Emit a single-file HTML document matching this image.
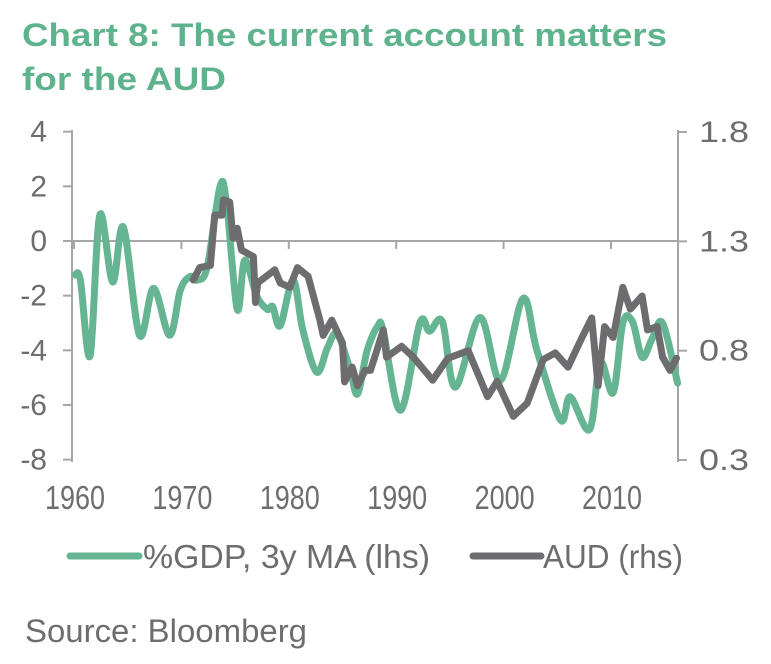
<!DOCTYPE html>
<html><head><meta charset="utf-8"><style>
body{margin:0;background:#fff;}
svg{display:block;font-family:"Liberation Sans",sans-serif;}
</style></head><body>
<svg id="chart" width="771" height="664" viewBox="0 0 771 664">
<text x="22" y="46" font-size="32" font-weight="bold" fill="#5fb38c" textLength="645" lengthAdjust="spacingAndGlyphs">Chart 8: The current account matters</text>
<text x="22" y="90" font-size="32" font-weight="bold" fill="#5fb38c" textLength="204" lengthAdjust="spacingAndGlyphs">for the AUD</text>
<g id="axes"></g>
<g id="series"></g>
<g>
<line x1="70" y1="556" x2="139" y2="556" stroke="#66b592" stroke-width="7" stroke-linecap="round"/>
<text x="143" y="568" font-size="33" fill="#6d6d6f" textLength="287" lengthAdjust="spacingAndGlyphs">%GDP, 3y MA (lhs)</text>
<line x1="473" y1="556" x2="541" y2="556" stroke="#6d6d6f" stroke-width="7" stroke-linecap="round"/>
<text x="543" y="568" font-size="33" fill="#6d6d6f" textLength="140" lengthAdjust="spacingAndGlyphs">AUD (rhs)</text>
</g>
<text x="25" y="642" font-size="32" fill="#6d6d6f" textLength="282" lengthAdjust="spacingAndGlyphs">Source: Bloomberg</text>
</svg>
<script>
const leftTicks=[4,2,0,-2,-4,-6,-8];
const rightTicks=["1.8","1.3","0.8","0.3"];
const yearTicks=[1960,1970,1980,1990,2000,2010];
const gdpYears=[1960.1,1960.6,1961.5,1962.4,1963.6,1964.6,1966.1,1967.4,1968.9,1969.9,1970.8,1971.5,1972.4,1973.6,1974.2,1975.2,1975.9,1977.0,1978.0,1978.5,1979.2,1980.4,1981.3,1982.6,1983.6,1984.5,1985.7,1986.4,1987.3,1988.3,1988.8,1990.4,1992.2,1993.1,1994.3,1995.5,1997.8,1999.7,2001.8,2003.1,2005.3,2006.2,2008.0,2009.0,2010.2,2011.1,2012.0,2012.9,2013.8,2014.8,2016.2];
const gdpValues=[-1.24,-1.43,-4.2,0.95,-1.5,0.5,-3.45,-1.73,-3.45,-1.8,-1.3,-1.43,-0.95,2.0,1.4,-2.5,-0.7,-2.0,-2.5,-2.4,-3.1,-1.43,-3.25,-4.8,-3.9,-3.4,-4.7,-5.6,-4.0,-3.1,-3.3,-6.2,-3.0,-3.3,-2.95,-5.35,-2.8,-5.1,-2.1,-4.0,-6.55,-5.7,-6.9,-4.45,-5.55,-3.0,-2.95,-4.25,-3.6,-3.0,-5.2];
const audYears=[1971.1,1971.7,1972.7,1973.1,1973.8,1973.9,1974.5,1974.8,1975.2,1975.6,1976.7,1976.9,1977.1,1978.7,1979.2,1980.1,1980.8,1981.8,1982.9,1983.2,1984.0,1985.0,1985.2,1985.9,1986.4,1987.1,1987.6,1988.0,1988.8,1989.1,1990.5,1991.6,1993.4,1994.8,1996.7,1998.5,1999.4,2000.9,2002.2,2003.7,2004.8,2006.0,2007.3,2008.2,2008.8,2009.4,2010.2,2011.1,2011.8,2012.9,2013.4,2014.3,2014.8,2015.5,2016.1];
const audValues=[1.123,1.18,1.19,1.42,1.42,1.49,1.48,1.315,1.36,1.26,1.23,1.02,1.11,1.17,1.11,1.09,1.18,1.14,0.94,0.87,0.94,0.835,0.657,0.725,0.64,0.71,0.71,0.77,0.895,0.77,0.82,0.77,0.665,0.765,0.80,0.59,0.66,0.50,0.56,0.76,0.79,0.725,0.86,0.95,0.64,0.91,0.86,1.09,0.99,1.05,0.895,0.91,0.77,0.71,0.765];

const NS="http://www.w3.org/2000/svg";
const xPos=y=>74+(y-1960)*10.74;
const yL=v=>241-v*27.33;
const yR=v=>132+(1.8-v)*218.67;
const axes=document.getElementById('axes'), ser=document.getElementById('series');
function mk(tag,attrs,parent){const e=document.createElementNS(NS,tag);for(const k in attrs)e.setAttribute(k,attrs[k]);parent.appendChild(e);return e;}
const ac="#a6a6a6";
let e;
e=mk('line',{x1:72,y1:130,x2:72,y2:462,stroke:ac,'stroke-width':2},axes);


e=mk('line',{x1:678,y1:130,x2:678,y2:462,stroke:ac,'stroke-width':2},axes);


e=mk('line',{x1:72,y1:241,x2:678,y2:241,stroke:ac,'stroke-width':2},axes);


leftTicks.forEach(v=>{
 mk('line',{x1:63,y1:yL(v),x2:72,y2:yL(v),stroke:ac,'stroke-width':2},axes);
 e=mk('text',{x:47,y:yL(v)+10,'font-size':30,fill:'#6d6d6f','text-anchor':'end'},axes);
 e.textContent=v;
 
 
});
rightTicks.forEach(t=>{
 const v=parseFloat(t);
 mk('line',{x1:678,y1:yR(v),x2:687,y2:yR(v),stroke:ac,'stroke-width':2},axes);
 e=mk('text',{x:699,y:yR(v)+10,'font-size':30,fill:'#6d6d6f',textLength:50,lengthAdjust:'spacingAndGlyphs'},axes);
 e.textContent=t;
 
 
});
yearTicks.forEach(yr=>{
 mk('line',{x1:xPos(yr),y1:241,x2:xPos(yr),y2:249,stroke:ac,'stroke-width':2},axes);
 e=mk('text',{x:xPos(yr)+1,y:509,'font-size':33,fill:'#6d6d6f','text-anchor':'middle',textLength:60,lengthAdjust:'spacingAndGlyphs'},axes);
 e.textContent=yr;
 
 
});
function smooth(xs,vs,yf){
 const p=xs.map((x,i)=>[xPos(x),yf(vs[i])]);
 let d='M'+p[0][0].toFixed(1)+' '+p[0][1].toFixed(1);
 for(let i=0;i<p.length-1;i++){
  const p0=p[i-1]||p[i],p1=p[i],p2=p[i+1],p3=p[i+2]||p2;
  const c1=[p1[0]+(p2[0]-p0[0])/6,p1[1]+(p2[1]-p0[1])/6];
  const c2=[p2[0]-(p3[0]-p1[0])/6,p2[1]-(p3[1]-p1[1])/6];
  d+=' C'+c1.map(n=>n.toFixed(1)).join(' ')+' '+c2.map(n=>n.toFixed(1)).join(' ')+' '+p2[0].toFixed(1)+' '+p2[1].toFixed(1);
 }
 return d;
}
function path(xs,vs,yf){return xs.map((x,i)=>(i?'L':'M')+xPos(x).toFixed(1)+' '+yf(vs[i]).toFixed(1)).join(' ');}
e=mk('path',{d:smooth(gdpYears,gdpValues,yL),fill:'none',stroke:'#66b592','stroke-width':7,'stroke-linejoin':'round','stroke-linecap':'round'},ser);


e=mk('path',{d:path(audYears,audValues,yR),fill:'none',stroke:'#6d6d6f','stroke-width':7,'stroke-linejoin':'round','stroke-linecap':'round'},ser);


</script>
</body></html>
